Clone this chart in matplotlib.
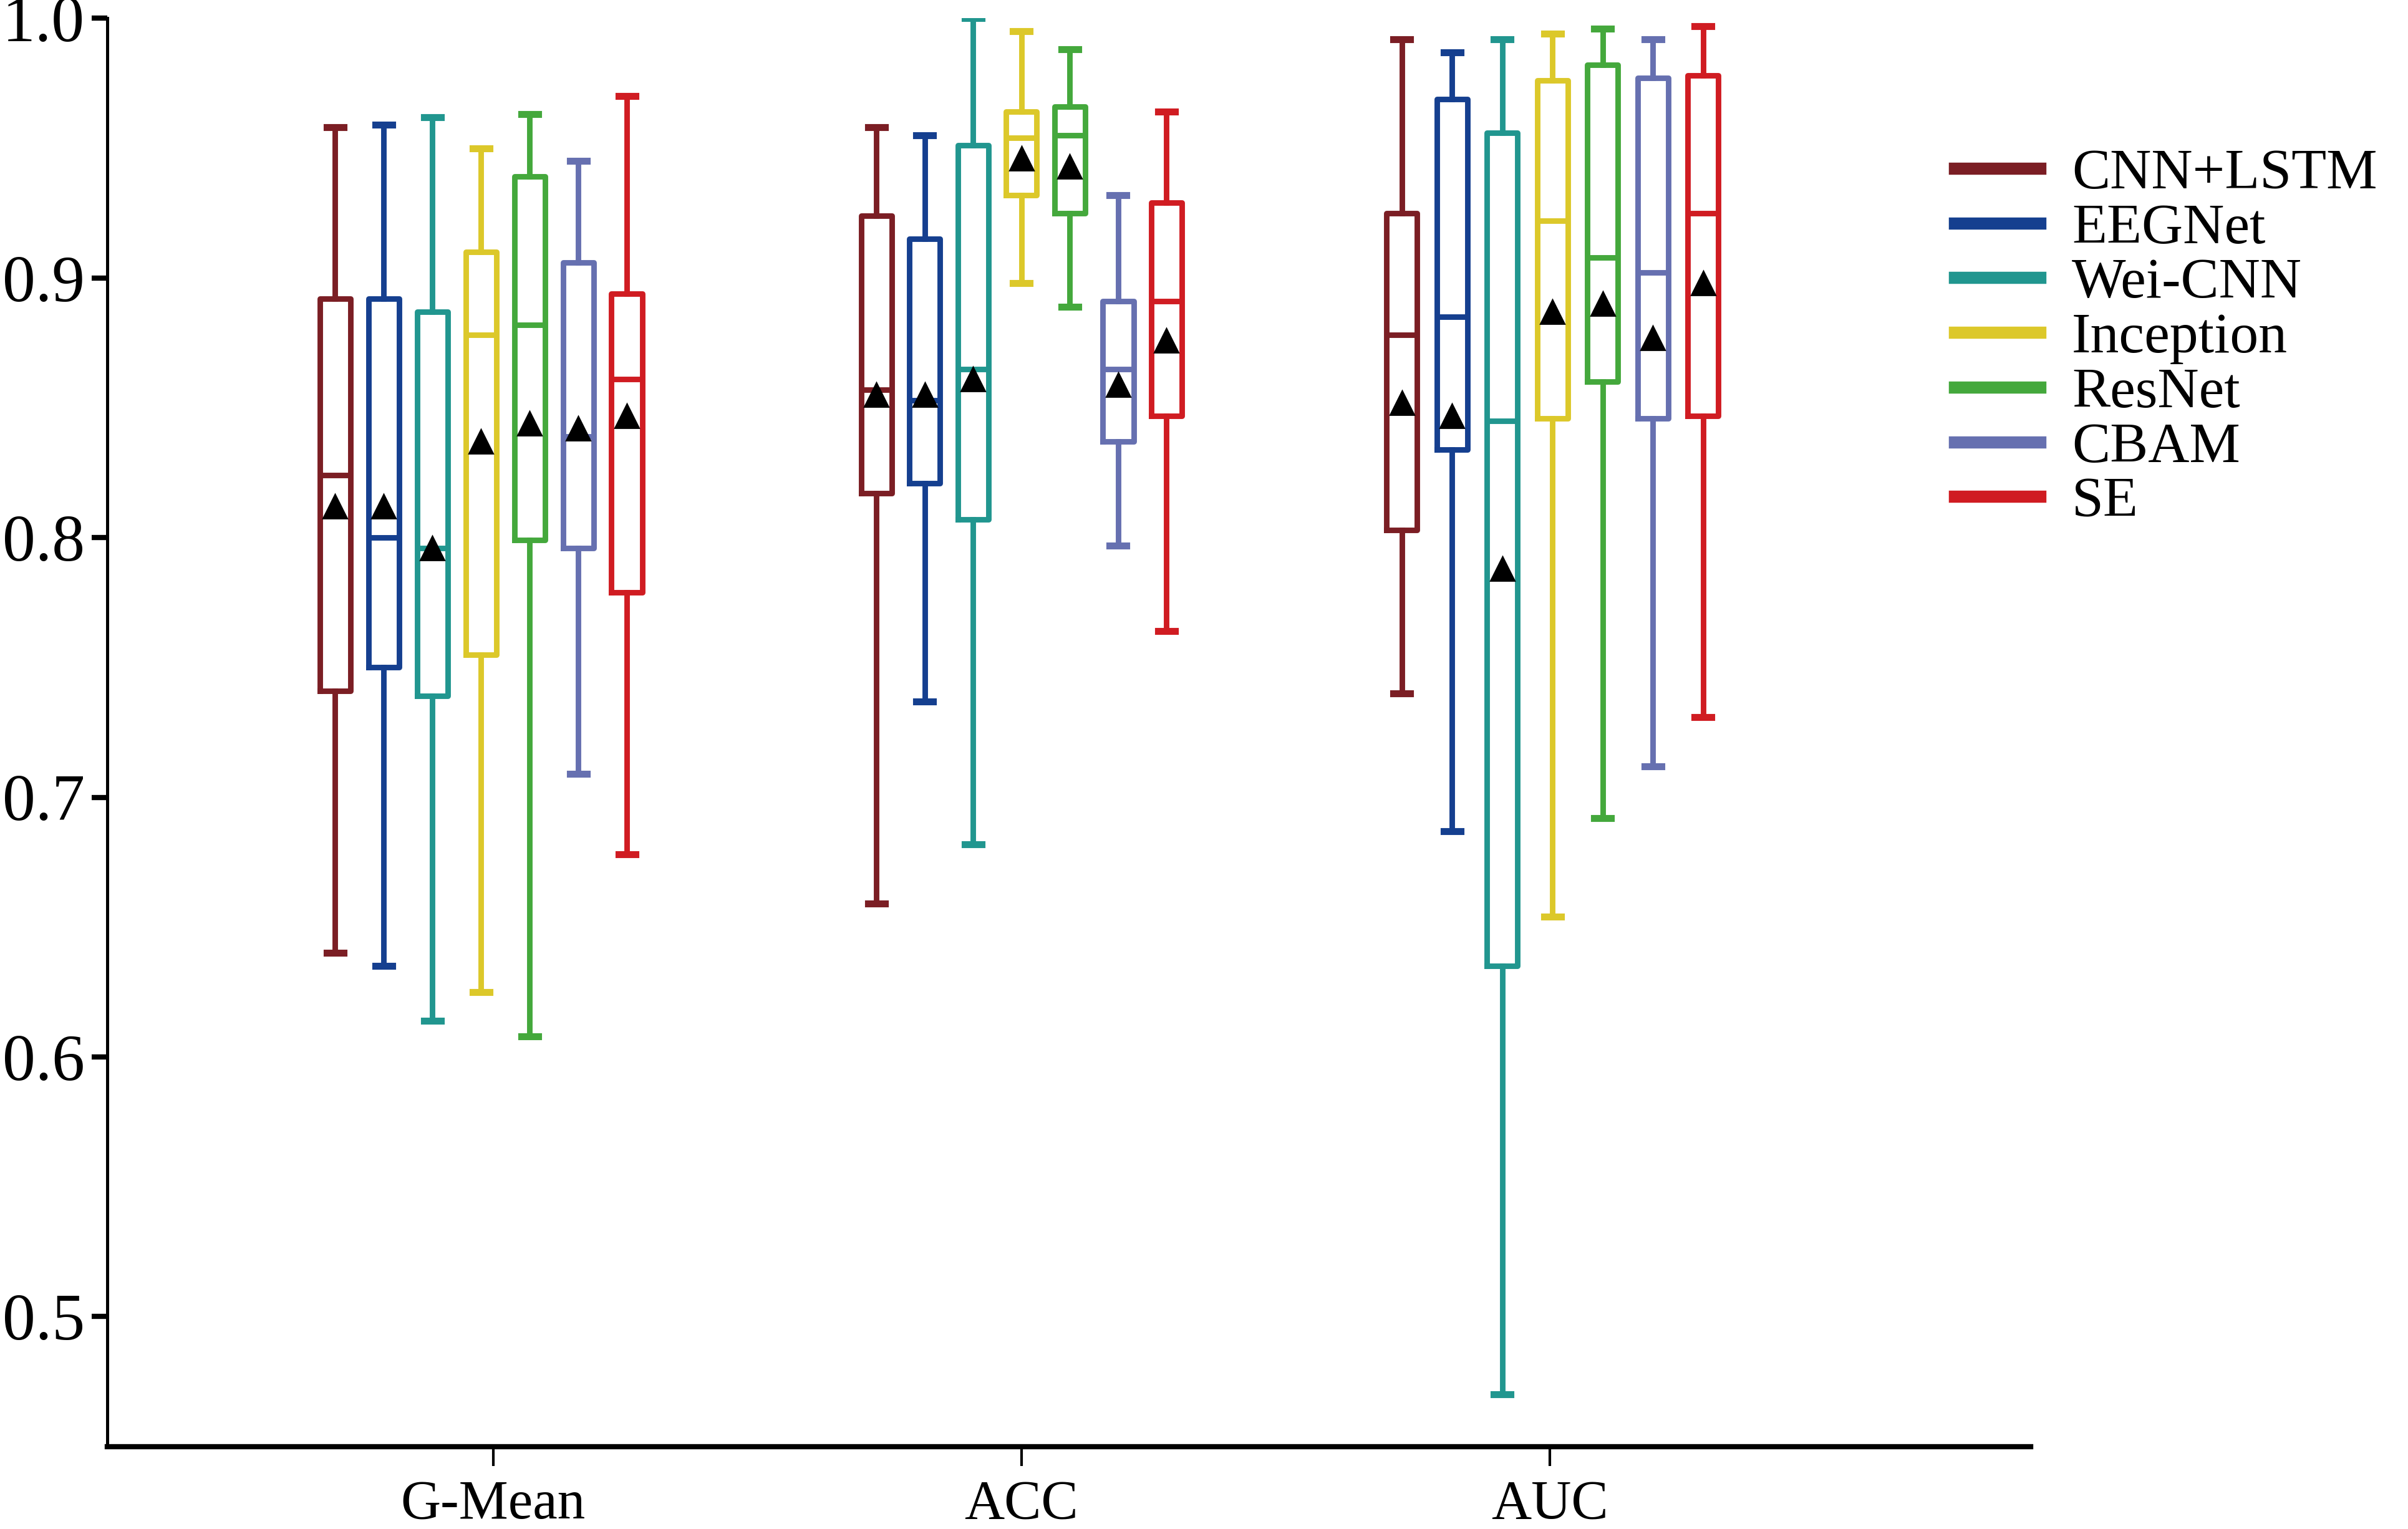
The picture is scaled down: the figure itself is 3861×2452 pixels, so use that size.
import numpy as np
import matplotlib.pyplot as plt
from matplotlib.lines import Line2D

plt.rcParams['font.family'] = ['Liberation Serif', 'DejaVu Serif']

metrics = ["G-Mean", "ACC", "AUC"]
models = ["CNN+LSTM", "EEGNet", "Wei-CNN", "Inception", "ResNet", "CBAM", "SE"]
colors = ["#7b1e24", "#153f8f", "#21968f", "#dcc82a", "#44a83c", "#6670b0", "#d01c22"]

# rows = models, cols = metrics (G-Mean, ACC, AUC)
whis_hi = [[0.958, 0.958, 0.992],
           [0.959, 0.955, 0.987],
           [0.962, 1.000, 0.992],
           [0.950, 0.995, 0.994],
           [0.963, 0.988, 0.996],
           [0.945, 0.932, 0.992],
           [0.970, 0.964, 0.997]]
q3 = [[0.892, 0.924, 0.925],
      [0.892, 0.915, 0.969],
      [0.887, 0.951, 0.956],
      [0.910, 0.964, 0.976],
      [0.939, 0.966, 0.982],
      [0.906, 0.891, 0.977],
      [0.894, 0.929, 0.978]]
medians = [[0.824, 0.857, 0.878],
           [0.800, 0.853, 0.885],
           [0.796, 0.865, 0.845],
           [0.878, 0.954, 0.922],
           [0.882, 0.955, 0.908],
           [0.839, 0.865, 0.902],
           [0.861, 0.891, 0.925]]
means = [[0.812, 0.855, 0.852],
         [0.812, 0.855, 0.847],
         [0.796, 0.861, 0.788],
         [0.837, 0.946, 0.887],
         [0.844, 0.943, 0.890],
         [0.842, 0.859, 0.877],
         [0.847, 0.876, 0.898]]
q1 = [[0.741, 0.817, 0.803],
      [0.750, 0.821, 0.834],
      [0.739, 0.807, 0.635],
      [0.755, 0.932, 0.846],
      [0.799, 0.925, 0.860],
      [0.796, 0.837, 0.846],
      [0.779, 0.847, 0.847]]
whis_lo = [[0.640, 0.659, 0.740],
           [0.635, 0.737, 0.687],
           [0.614, 0.682, 0.470],
           [0.625, 0.898, 0.654],
           [0.608, 0.889, 0.692],
           [0.709, 0.797, 0.712],
           [0.678, 0.764, 0.731]]

fig = plt.figure(figsize=(19.31, 12.26), dpi=200)
ax = fig.add_axes([0.0446, 0.054, 0.7985, 0.934])

xpos = np.arange(1, len(metrics) + 1)
# box group centres / spacing per metric
centres = [0.977, 2.0, 3.005]
steps = [0.092, 0.0915, 0.095]
width = 0.058

for i, m in enumerate(models):
    stats = []
    pos = []
    for j in range(len(metrics)):
        stats.append(dict(med=medians[i][j], q1=q1[i][j], q3=q3[i][j],
                          whislo=whis_lo[i][j], whishi=whis_hi[i][j],
                          mean=means[i][j], fliers=[]))
        pos.append(centres[j] + (i - 3) * steps[j])
    c = colors[i]
    ax.bxp(stats, positions=pos, widths=width, showmeans=True,
           showfliers=False, manage_ticks=False, capwidths=width * 0.55,
           boxprops=dict(color=c, linewidth=3.2),
           whiskerprops=dict(color=c, linewidth=3.2),
           capprops=dict(color=c, linewidth=4),
           medianprops=dict(color=c, linewidth=3.2),
           meanprops=dict(marker='^', markerfacecolor='black',
                          markeredgecolor='black', markersize=14))

ax.set_xlim(0.27, 3.91)
ax.set_ylim(0.45, 1.0)
ax.set_xticks(xpos)
ax.set_xticklabels(metrics, fontsize=32)
ax.set_yticks([0.5, 0.6, 0.7, 0.8, 0.9, 1.0])
ax.set_yticklabels(["0.5", "0.6", "0.7", "0.8", "0.9", "1.0"], fontsize=38)
ax.tick_params(axis='x', direction='out', length=11, width=1.5, pad=8)
ax.tick_params(axis='y', direction='out', length=9, width=3, pad=4)

ax.spines['top'].set_visible(False)
ax.spines['right'].set_visible(False)
ax.spines['left'].set_linewidth(1.8)
ax.spines['bottom'].set_linewidth(3)
ax.spines['left'].set_bounds(0.45, 1.0)

handles = [Line2D([0], [0], color=c, linewidth=7) for c in colors]
fig.legend(handles, models, loc='upper left', bbox_to_anchor=(0.802, 0.918),
           frameon=False, fontsize=33, handlelength=1.5, handletextpad=0.55,
           labelspacing=0.05, borderaxespad=0)

fig.savefig("out.png", dpi=200)
